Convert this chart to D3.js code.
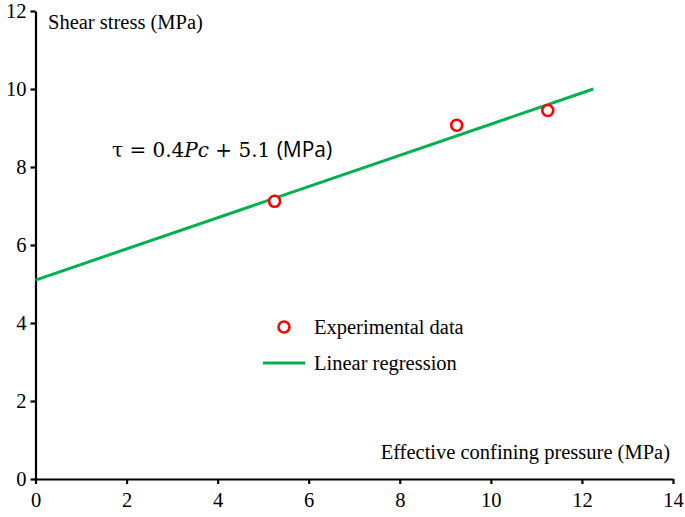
<!DOCTYPE html>
<html><head><meta charset="utf-8">
<script src="https://cdn.jsdelivr.net/npm/d3@7"></script>
<style>body{margin:0;background:#fff} svg text{font-family:'Liberation Serif','Times New Roman',serif}</style>
</head><body>
<svg id="c" width="685" height="517"></svg>
<script>
const xTicks = [0,2,4,6,8,10,12,14];
const yTicks = [0,2,4,6,8,10,12];
const expPc = [5.25, 9.25, 11.25];
const expTau = [7.12, 9.07, 9.45];
const regSlope = 0.4, regIntercept = 5.1;
const regPc = [0, 12.25];
const regTau = regPc.map(p => regSlope*p + regIntercept);

const svg = d3.select("#c");
const x = d3.scaleLinear().domain([0,14]).range([35.5,673]);
const y = d3.scaleLinear().domain([0,12]).range([479,11]);
const serif = "'Liberation Serif','Times New Roman',serif";
const FS = 20.5;

const xa = svg.append("g").attr("transform","translate(0,479)")
  .call(d3.axisBottom(x).tickValues(xTicks).tickSize(5).tickSizeOuter(0).tickPadding(5));
const ya = svg.append("g").attr("transform","translate(35.5,0)")
  .call(d3.axisLeft(y).tickValues(yTicks).tickSize(5).tickSizeOuter(0).tickPadding(4));
[xa,ya].forEach(a=>{
  a.attr("font-family",null).attr("font-size",null);
  a.selectAll("path,line").attr("stroke","#000").attr("stroke-width",2.2);
  a.selectAll("text").style("font-family",serif).style("font-size",FS+"px").attr("fill","#000");
});
xa.selectAll("text").attr("dy","0.9em");

// regression line
svg.append("line")
  .attr("x1",x(regPc[0])).attr("y1",y(regTau[0]))
  .attr("x2",x(regPc[1])).attr("y2",y(regTau[1]))
  .attr("stroke","#00b050").attr("stroke-width",3);

// points
svg.selectAll("circle.p").data(expPc).join("circle").attr("class","p")
  .attr("cx",d=>x(d)).attr("cy",(d,i)=>y(expTau[i])).attr("r",5.5)
  .attr("fill","#fff").attr("stroke","#ff0000").attr("stroke-width",2.6);

// labels
svg.append("text").attr("x",48).attr("y",29).style("font-size",FS+"px")
  .text("Shear stress (MPa)");
svg.append("text").attr("x",670).attr("y",459).attr("text-anchor","end").style("font-size",FS+"px")
  .text("Effective confining pressure (MPa)");

// equation
const eq = svg.append("text").attr("x",112).attr("y",157).style("font-size","20px").style("font-family","'DejaVu Serif',serif");
eq.append("tspan").text("τ = 0.4");
eq.append("tspan").style("font-style","italic").text("Pc");
eq.append("tspan").text(" + 5.1 ");
eq.append("tspan").style("font-family","'Open Sans',Arial,sans-serif").style("font-size","21px").text("(MPa)");

// legend
svg.append("circle").attr("cx",284).attr("cy",327).attr("r",5.5)
  .attr("fill","#fff").attr("stroke","#ff0000").attr("stroke-width",2.6);
svg.append("text").attr("x",314).attr("y",334).style("font-size",FS+"px").text("Experimental data");
svg.append("line").attr("x1",263).attr("x2",305).attr("y1",363).attr("y2",363)
  .attr("stroke","#00b050").attr("stroke-width",3);
svg.append("text").attr("x",314).attr("y",370).style("font-size",FS+"px").text("Linear regression");
</script>
</body></html>
